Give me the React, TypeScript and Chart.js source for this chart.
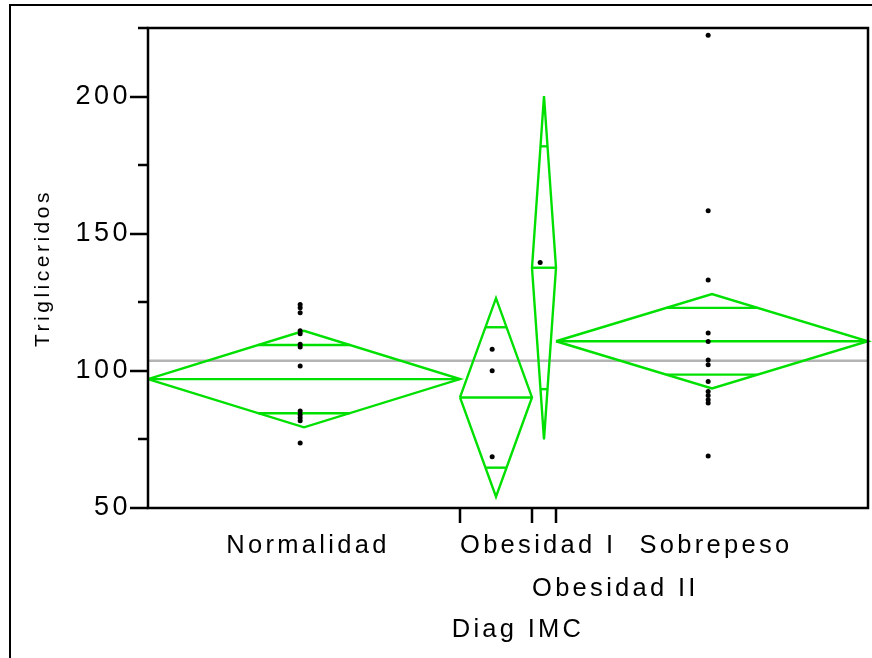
import React, { useEffect, useRef } from 'react';
import { Chart, registerables } from 'chart.js';

Chart.register(...registerables);

// Groups of Diag IMC, group sizes and the one-way fit (means, 95% half-widths)
const GROUPS = ['Normalidad', 'Obesidad I', 'Obesidad II', 'Sobrepeso'];
const GROUP_N = [13, 3, 1, 13];
const GROUP_MEAN = [97.0, 90.3, 137.6, 110.8];
const GROUP_CI = [17.6, 36.2, 62.6, 17.2];
const GRAND_MEAN = 103.7;

// Trigliceridos observations per group
const NORMALIDAD = [124.2, 123.0, 121.2, 114.6, 113.5, 109.7, 108.7, 101.8, 85.4, 84.0, 82.9, 81.8, 73.7];
const OBESIDAD_I = [107.9, 100.0, 68.7];
const OBESIDAD_II = [139.5];
const SOBREPESO = [222.4, 158.4, 133.1, 113.8, 110.7, 104.0, 102.2, 96.1, 92.5, 91.0, 89.5, 88.3, 69.0];
const GROUP_VALUES = [NORMALIDAD, OBESIDAD_I, OBESIDAD_II, SOBREPESO];

// Y axis range and ticks
const Y_MIN = 50;
const Y_MAX = 225;
const Y_LABELED_TICKS = [50, 100, 150, 200];
const Y_MINOR_TICKS = [75, 125, 175, 225];

const FONT = "'Liberation Sans', Arial, sans-serif";
const GREEN = 'rgb(0, 224, 0)';
const GREY = '#b4b4b4';
const DOT_SHIFT = -0.16;

function groupStarts(): { starts: number[]; total: number } {
  const starts: number[] = [];
  let acc = 0;
  GROUP_N.forEach((n) => {
    starts.push(acc);
    acc += n;
  });
  return { starts, total: acc };
}

function buildDatasets() {
  const { starts, total } = groupStarts();
  const datasets: any[] = [];
  const greenLine = (pts: { x: number; y: number }[]) => ({
    type: 'line',
    data: pts,
    borderColor: GREEN,
    borderWidth: 2.4,
    pointRadius: 0,
    fill: false,
    tension: 0,
    borderJoinStyle: 'miter',
    clip: false,
    order: 2,
  });

  // overall mean
  datasets.push({
    type: 'line',
    data: [
      { x: 0, y: GRAND_MEAN },
      { x: total, y: GRAND_MEAN },
    ],
    borderColor: GREY,
    borderWidth: 2.5,
    pointRadius: 0,
    fill: false,
    order: 3,
  });

  GROUPS.forEach((_, i) => {
    const x0 = starts[i];
    const x1 = x0 + GROUP_N[i];
    const xc = (x0 + x1) / 2;
    const m = GROUP_MEAN[i];
    const ci = GROUP_CI[i];

    // means diamond
    datasets.push(
      greenLine([
        { x: x0, y: m },
        { x: xc, y: m + ci },
        { x: x1, y: m },
        { x: xc, y: m - ci },
        { x: x0, y: m },
      ])
    );
    // group mean
    datasets.push(greenLine([{ x: x0, y: m }, { x: x1, y: m }]));
    // overlap marks at mean ± ci/√2
    const k = 1 / Math.SQRT2;
    const half = (GROUP_N[i] / 2) * (1 - k);
    [1, -1].forEach((s) =>
      datasets.push(
        greenLine([
          { x: xc - half, y: m + s * ci * k },
          { x: xc + half, y: m + s * ci * k },
        ])
      )
    );
    // observations
    datasets.push({
      type: 'scatter',
      data: GROUP_VALUES[i].map((v) => ({ x: xc + DOT_SHIFT, y: v })),
      pointRadius: 2.5,
      pointHoverRadius: 2.5,
      backgroundColor: '#000',
      borderColor: '#000',
      borderWidth: 0,
      order: 1,
    });
  });
  return datasets;
}

const decorations = {
  id: 'decorations',
  beforeDraw(chart: any) {
    chart.ctx.letterSpacing = '3.5px';
  },
  afterDraw(chart: any) {
    const { ctx, chartArea: a, scales } = chart;
    const xs = scales.x;
    const ys = scales.y;
    const { starts } = groupStarts();
    ctx.save();
    ctx.strokeStyle = '#000';
    ctx.fillStyle = '#000';
    ctx.lineWidth = 2.5;

    // plot frame
    ctx.strokeRect(a.left, a.top, a.right - a.left, a.bottom - a.top);

    // y tick marks
    ctx.beginPath();
    Y_LABELED_TICKS.forEach((v) => {
      const py = Math.round(ys.getPixelForValue(v));
      ctx.moveTo(a.left - 18, py);
      ctx.lineTo(a.left, py);
    });
    Y_MINOR_TICKS.forEach((v) => {
      const py = Math.round(ys.getPixelForValue(v));
      ctx.moveTo(a.left - 10, py);
      ctx.lineTo(a.left, py);
    });
    // x tick marks on group boundaries
    starts.slice(1).forEach((s) => {
      const px = Math.round(xs.getPixelForValue(s));
      ctx.moveTo(px, a.bottom);
      ctx.lineTo(px, a.bottom + 15);
    });
    ctx.stroke();

    // group labels, staggered into rows when they would collide
    ctx.letterSpacing = '3.3px';
    ctx.font = `25.5px ${FONT}`;
    ctx.textAlign = 'left';
    ctx.textBaseline = 'alphabetic';
    const rowEnds: number[] = [];
    GROUPS.forEach((g, i) => {
      const px0 = xs.getPixelForValue(starts[i]);
      const px1 = xs.getPixelForValue(starts[i] + GROUP_N[i]);
      const w = ctx.measureText(g).width;
      const left = w <= px1 - px0 ? (px0 + px1) / 2 - w / 2 + 4 : px0;
      let row = 0;
      while (rowEnds[row] !== undefined && rowEnds[row] > left) row++;
      rowEnds[row] = left + w + 6;
      ctx.fillText(g, left, a.bottom + 45 + row * 43);
    });

    // axis title
    ctx.textAlign = 'center';
    ctx.fillText('Diag IMC', (a.left + a.right) / 2 + 10, a.bottom + 129);

    // outer frame
    ctx.lineWidth = 2;
    ctx.strokeRect(10, 5, 1000, 1000);
    ctx.restore();
  },
};

export default function App() {
  const canvasRef = useRef<HTMLCanvasElement | null>(null);

  useEffect(() => {
    if (!canvasRef.current) return;
    const { total } = groupStarts();
    const chart = new Chart(canvasRef.current, {
      type: 'line',
      data: { datasets: buildDatasets() },
      options: {
        responsive: false,
        animation: false,
        events: [],
        layout: { padding: { left: 0, top: 28, right: 4, bottom: 150 } },
        plugins: {
          legend: { display: false },
          tooltip: { enabled: false },
          title: { display: false },
        },
        scales: {
          x: {
            type: 'linear',
            display: false,
            min: 0,
            max: total,
          },
          y: {
            type: 'linear',
            min: Y_MIN,
            max: Y_MAX,
            afterFit: (scale: any) => {
              scale.width = 148;
            },
            grid: { display: false },
            border: { display: false },
            ticks: {
              stepSize: 25,
              autoSkip: false,
              padding: 9,
              color: '#000',
              font: { family: FONT, size: 27 },
              callback: (v: any) => (Y_LABELED_TICKS.includes(Number(v)) ? String(v) : ''),
            },
            title: {
              display: true,
              text: 'Trigliceridos',
              color: '#000',
              font: { family: FONT, size: 21 },
              padding: { top: 31, bottom: 0 },
            },
          },
        },
      },
      plugins: [decorations],
    } as any);
    return () => chart.destroy();
  }, []);

  return (
    <div style={{ position: 'absolute', left: 0, top: 0, width: 872, height: 658, background: '#fff' }}>
      <canvas ref={canvasRef} width={872} height={658} style={{ display: 'block' }} />
    </div>
  );
}
